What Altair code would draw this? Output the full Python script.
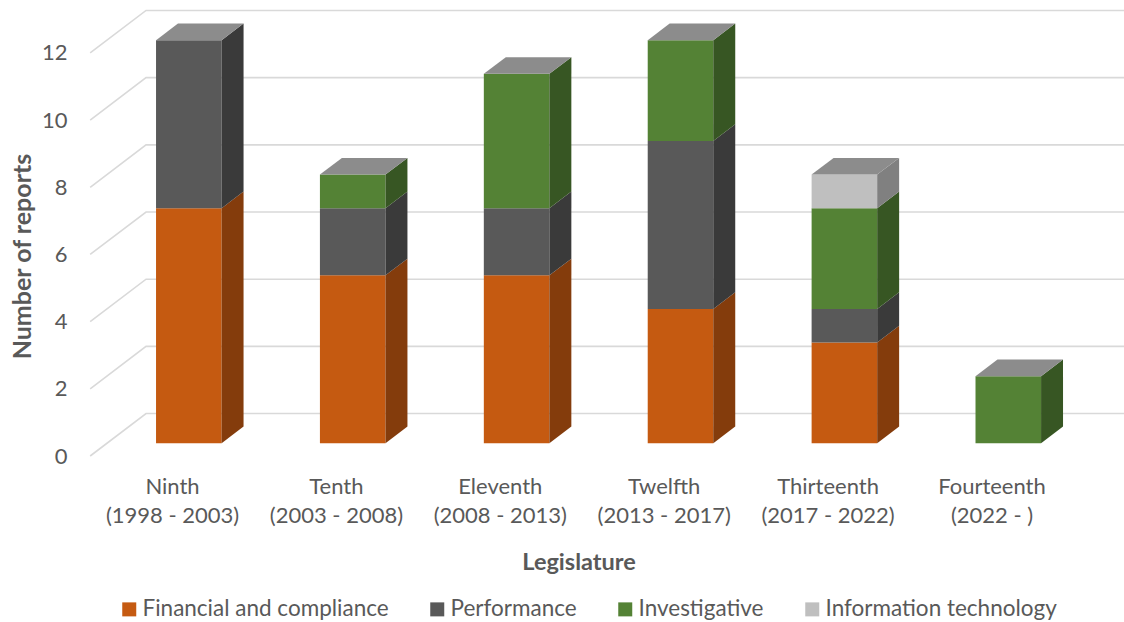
import json
import altair as alt
import pandas as pd

# Reports per legislature, stacked by audit type
categories = ["Ninth", "Tenth", "Eleventh", "Twelfth", "Thirteenth", "Fourteenth"]
periods = ["1998 - 2003", "2003 - 2008", "2008 - 2013", "2013 - 2017", "2017 - 2022", "2022 - "]
series = ["Financial and compliance", "Performance", "Investigative", "Information technology"]
financial = [7, 5, 5, 4, 3, 0]
performance = [5, 2, 2, 5, 1, 0]
investigative = [0, 1, 4, 3, 3, 2]
info_tech = [0, 0, 0, 0, 1, 0]
y_ticks = [0, 2, 4, 6, 8, 10, 12]

front_colors = ["#C55A11", "#595959", "#548235", "#BFBFBF"]
side_colors = ["#843C0C", "#3A3A3A", "#375623", "#808080"]
top_color = "#8C8C8C"
grid_color = "#D9D9D9"
text_color = "#595959"
FONT = "Lato"

# Oblique 3-D projection: one bar depth moves DX slots right and DY reports up
DX = 0.134
DY = 0.497
HALF = 0.2          # half bar width, in category slots
WALL = 1.784        # back wall depth, in bar depths
FRONT_EDGE = -0.76  # front edge of the side wall, in bar depths

values = [financial, performance, investigative, info_tech]
front_rows, side_rows, top_rows = [], [], []
for i, cat in enumerate(categories):
    base = 0
    for s, name in enumerate(series):
        v = values[s][i]
        if v == 0:
            continue
        y0, y1 = base, base + v
        seg = f"{i}-{s}"
        front_rows.append(dict(x=i - HALF, x2=i + HALF, y=y0, y2=y1, series=name))
        side_rows.append(dict(seg=seg, x=i + HALF, y=y0, y2=y1, fill=side_colors[s]))
        side_rows.append(dict(seg=seg, x=i + HALF + DX, y=y0 + DY, y2=y1 + DY, fill=side_colors[s]))
        base = y1
    if base > 0:
        top_rows.append(dict(bar=i, y=base, x=i - HALF, x2=i + HALF))
        top_rows.append(dict(bar=i, y=base + DY, x=i - HALF + DX, x2=i + HALF + DX))

# Gridlines: side wall diagonal, then along the back wall
grid_rows = []
n = len(categories)
for v in y_ticks:
    pts = [(-0.5 + FRONT_EDGE * DX, v + FRONT_EDGE * DY),
           (-0.5 + WALL * DX, v + WALL * DY),
           (n - 0.5 + WALL * DX, v + WALL * DY)]
    for k, (gx, gy) in enumerate(pts):
        grid_rows.append(dict(tick=v, k=k, x=gx, y=gy))

x_scale = alt.Scale(domain=[-0.609, 5.706], nice=False, zero=False)
y_scale = alt.Scale(domain=[-0.497, 13.05], nice=False, zero=False)

label_lines = [[c, f"({p})"] for c, p in zip(categories, periods)]
label_expr = json.dumps(label_lines) + "[datum.value]"

x_axis = alt.Axis(
    values=list(range(n)), labelExpr=label_expr, title="Legislature",
    grid=False, ticks=False, domain=False, labelFlush=False, labelOverlap=False,
    labelFont=FONT, labelFontSize=22, labelColor=text_color, labelOffset=-16.8,
    labelPadding=16, labelLineHeight=29,
    titleFont=FONT, titleFontSize=23.5, titleFontWeight="bold", titleColor=text_color,
    titleX=489.5, titleY=102, titleBaseline="middle",
)
y_axis = alt.Axis(
    values=y_ticks, title="Number of reports",
    grid=False, ticks=False, domain=False, labelFlush=False,
    labelFont=FONT, labelFontSize=22, labelColor=text_color, labelOffset=12.7,
    labelPadding=22, labelBaseline="middle",
    titleFont=FONT, titleFontSize=25, titleFontWeight="bold", titleColor=text_color,
    titleX=-67, titleY=251, titleBaseline="middle",
)
legend = alt.Legend(
    title=None, orient="none", legendX=29, legendY=593, direction="horizontal",
    columns=4, symbolType="square", symbolSize=196, symbolStrokeWidth=0,
    labelFont=FONT, labelFontSize=22.5, labelColor=text_color, labelOffset=2,
    columnPadding=37, padding=0, labelLimit=0,
)

# Every layer shares the same x/y fields, scales and axes
X = alt.X("x:Q", scale=x_scale, axis=x_axis)
Y = alt.Y("y:Q", scale=y_scale, axis=y_axis, stack=None)

grid = alt.Chart(pd.DataFrame(grid_rows)).mark_line(
    color=grid_color, strokeWidth=1.6, clip=True
).encode(
    x=X, y=Y,
    detail="tick:N",
    order="k:Q",
)

front = alt.Chart(pd.DataFrame(front_rows)).mark_rect().encode(
    x=X, x2="x2:Q",
    y=Y, y2="y2:Q",
    color=alt.Color("series:N", scale=alt.Scale(domain=series, range=front_colors), legend=legend),
)

side = alt.Chart(pd.DataFrame(side_rows)).mark_area(orient="vertical").encode(
    x=X, y=Y, y2="y2:Q",
    detail="seg:N",
    fill=alt.Fill("fill:N", scale=None),
)

top = alt.Chart(pd.DataFrame(top_rows)).mark_area(orient="horizontal", color=top_color).encode(
    y=Y, x=X, x2="x2:Q",
    detail="bar:N",
)

chart = alt.layer(grid, front, side, top).properties(
    width=1035, height=455,
    autosize=alt.AutoSizeParams(type="none"),
    padding={"left": 89, "top": 5, "right": 0, "bottom": 162},
    background="white",
).configure_view(stroke=None)

chart.save("out.html", embed_options={"renderer": "svg", "actions": False})
